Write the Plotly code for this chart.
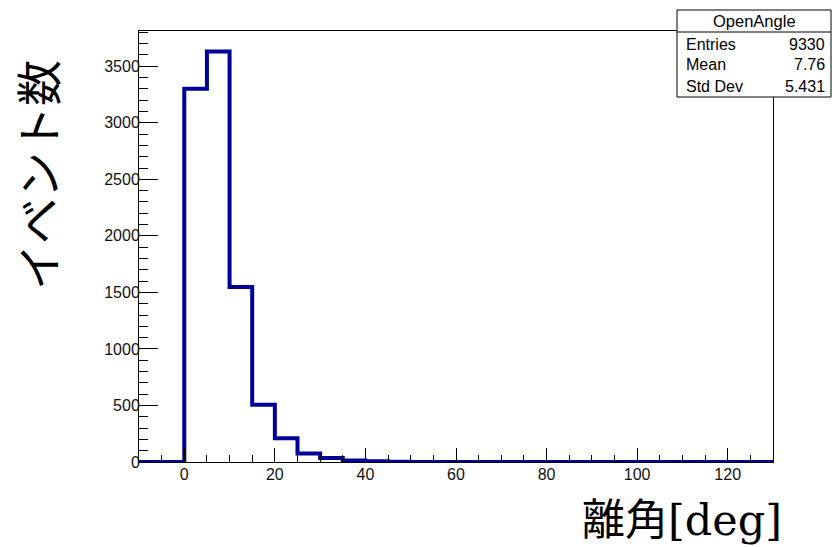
import plotly.graph_objects as go

# Histogram "OpenAngle": 5-degree bins from -10 to 130 degrees
bin_edges = list(range(-10, 135, 5))
counts = [0, 0, 3300, 3630, 1548, 506, 210, 76, 36, 14, 6, 3, 1,
          0, 0, 0, 0, 0, 0, 0, 0, 0, 0, 0, 0, 0, 0, 0]

stat_title = "OpenAngle"
stat_names = ["Entries", "Mean", "Std Dev"]
stat_values = ["9330", "7.76", "5.431"]

x_title = "離角[deg]"
y_title = "イベント数"

W, H = 832, 547
L, R, T, B = 139, 59, 31, 85
PW, PH = W - L - R, H - T - B


def px(xp):
    return (xp - L) / PW


def py(yp):
    return (H - B - yp) / PH


# step outline: left edges followed by the final right edge
xs = bin_edges
ys = counts + [counts[-1]]

line_color = "#000099"
font_sans = "Liberation Sans, Arial, sans-serif"

fig = go.Figure()
fig.add_trace(go.Scatter(
    x=xs, y=ys, mode="lines", line=dict(shape="hv", color=line_color, width=4),
    hoverinfo="skip", showlegend=False,
))

ymax = max(counts) * 1.05

fig.update_layout(
    width=W, height=H,
    margin=dict(l=L, r=R, t=T, b=B, pad=0),
    paper_bgcolor="white", plot_bgcolor="white",
    font=dict(family=font_sans, size=16, color="black"),
    xaxis=dict(
        range=[-10, 130], showgrid=False, zeroline=False,
        showline=True, linecolor="black", linewidth=1, mirror=True,
        ticks="inside", ticklen=14, tickcolor="black", tickwidth=1,
        tick0=0, dtick=20,
        minor=dict(ticks="inside", ticklen=7, dtick=5, tick0=0,
                   tickcolor="black", showgrid=False),
        tickfont=dict(family=font_sans, size=16, color="#111111"),
        ticklabelstandoff=-2,
        automargin=False,
    ),
    yaxis=dict(
        range=[0, ymax], showgrid=False, zeroline=False,
        showline=True, linecolor="black", linewidth=1, mirror=True,
        ticks="inside", ticklen=19, tickcolor="black", tickwidth=1,
        tick0=0, dtick=500,
        minor=dict(ticks="inside", ticklen=9, dtick=100, tick0=0,
                   tickcolor="black", showgrid=False),
        tickfont=dict(family=font_sans, size=16, color="#111111"),
        ticklabelstandoff=-5,
        automargin=False,
    ),
)

# statistics box
bx0, bx1, by0, by1, bsep = 677, 831, 10, 97, 32
fig.add_shape(type="rect", xref="paper", yref="paper",
              x0=px(bx0), x1=px(bx1), y0=py(by1), y1=py(by0),
              line=dict(color="black", width=1), fillcolor="white", layer="above")
fig.add_shape(type="line", xref="paper", yref="paper",
              x0=px(bx0), x1=px(bx1), y0=py(bsep), y1=py(bsep),
              line=dict(color="black", width=1), layer="above")

annotations = [
    dict(text=stat_title, x=px((bx0 + bx1) / 2), y=py(21), xanchor="center",
         yanchor="middle", font=dict(family=font_sans, size=16.5, color="black")),
]
row_y = [44, 64.5, 86]
for name, val, yy in zip(stat_names, stat_values, row_y):
    annotations.append(dict(text=name, x=px(684), y=py(yy), xanchor="left",
                            yanchor="middle",
                            font=dict(family=font_sans, size=16, color="black")))
    annotations.append(dict(text=val, x=px(827), y=py(yy), xanchor="right",
                            yanchor="middle",
                            font=dict(family=font_sans, size=16, color="black")))

# axis titles
annotations.append(dict(text=y_title, x=px(36), y=py(175), textangle=-90,
                        xanchor="center", yanchor="middle",
                        font=dict(family="Noto Sans CJK JP", size=46, color="black")))
annotations.append(dict(text=x_title, x=px(784), y=py(520), xanchor="right",
                        yanchor="middle",
                        font=dict(family="DejaVu Serif, Noto Sans CJK JP", size=43,
                                  color="black")))

for a in annotations:
    a.update(xref="paper", yref="paper", showarrow=False)
fig.update_layout(annotations=annotations)

fig.write_html("out.html")
